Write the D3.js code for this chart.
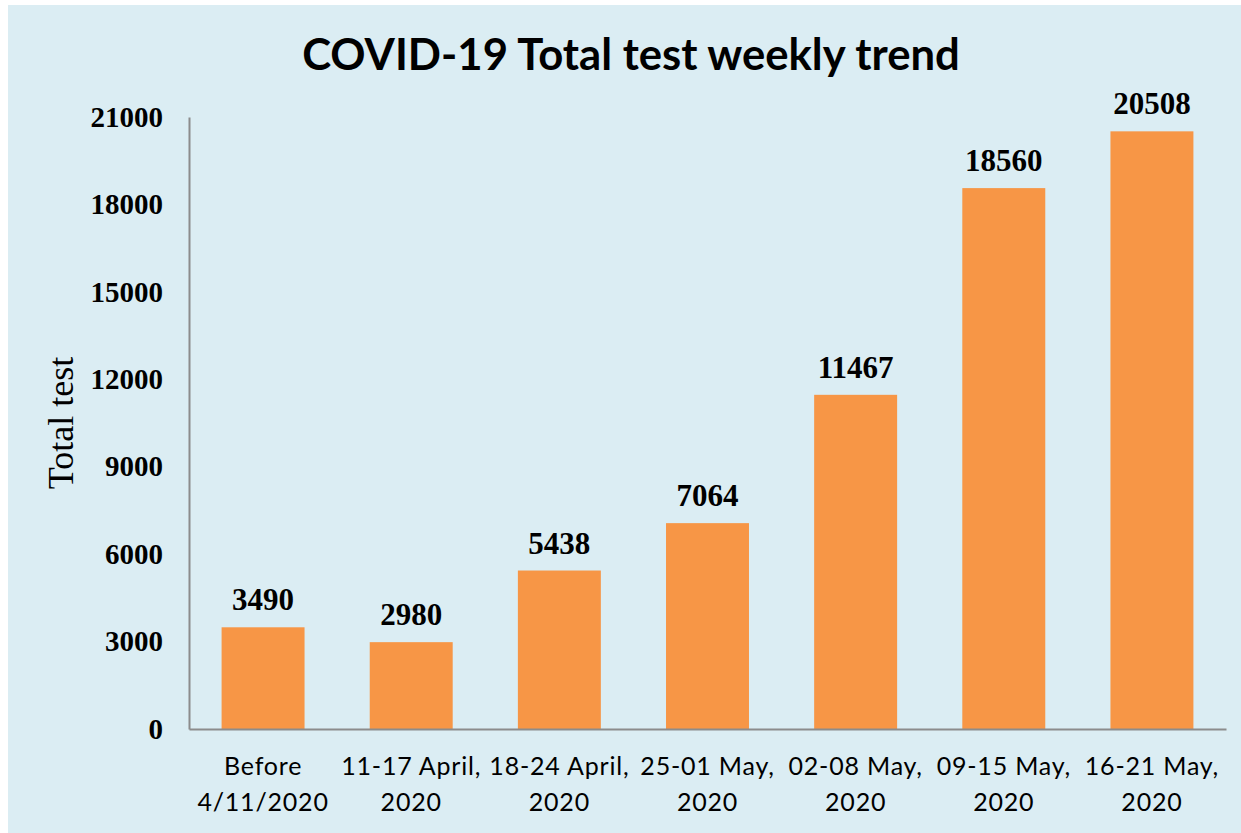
<!DOCTYPE html>
<html>
<head>
<meta charset="utf-8">
<script src="https://cdn.jsdelivr.net/npm/d3@7"></script>
<style>
  html, body { margin: 0; padding: 0; background: #ffffff; }
  svg { display: block; }
</style>
</head>
<body>
<svg id="chart" width="1241" height="833"></svg>
<script>
(function () {
  // chart data
  const categories = [
    "Before\n4/11/2020",
    "11-17 April,\n2020",
    "18-24 April,\n2020",
    "25-01 May,\n2020",
    "02-08 May,\n2020",
    "09-15 May,\n2020",
    "16-21 May,\n2020"
  ];
  const totals = [3490, 2980, 5438, 7064, 11467, 18560, 20508];
  const yTicks = [0, 3000, 6000, 9000, 12000, 15000, 18000, 21000];

  const W = 1241, H = 833;
  const margin = { left: 189, right: 15, top: 117, bottom: 104 };
  const svg = d3.select("#chart");

  svg.append("rect")
    .attr("x", 8).attr("y", 5)
    .attr("width", W - 8).attr("height", H - 5)
    .attr("fill", "#dbedf3");

  const x = d3.scaleBand()
    .domain(categories)
    .range([margin.left, W - margin.right])
    .paddingInner(0.44)
    .paddingOuter(0.22);

  const y = d3.scaleLinear()
    .domain([0, 21000])
    .range([H - margin.bottom, margin.top]);

  // bars
  svg.append("g")
    .selectAll("rect")
    .data(totals)
    .join("rect")
    .attr("x", (d, i) => x(categories[i]))
    .attr("y", (d) => y(d))
    .attr("width", x.bandwidth())
    .attr("height", (d) => y(0) - y(d))
    .attr("fill", "#f79646");

  // value labels
  svg.append("g")
    .selectAll("text")
    .data(totals)
    .join("text")
    .attr("x", (d, i) => x(categories[i]) + x.bandwidth() / 2)
    .attr("y", (d) => y(d) - 17)
    .attr("text-anchor", "middle")
    .attr("font-family", "'Liberation Serif', 'Times New Roman', serif")
    .attr("font-weight", "bold")
    .attr("font-size", 31)
    .attr("fill", "#000")
    .text((d) => d);

  // y axis
  const yAxis = svg.append("g")
    .attr("transform", `translate(${margin.left},0)`)
    .call(d3.axisLeft(y).tickValues(yTicks).tickFormat(d3.format("d")).tickSize(0).tickPadding(26));
  yAxis.select(".domain").attr("stroke", "#8c8c8c").attr("stroke-width", 2);
  yAxis.selectAll("text")
    .attr("font-family", "'Liberation Serif', 'Times New Roman', serif")
    .attr("font-weight", "bold")
    .attr("font-size", 29)
    .attr("fill", "#000");

  // x axis
  const xAxis = svg.append("g")
    .attr("transform", `translate(0,${y(0)})`)
    .call(d3.axisBottom(x).tickSize(0).tickPadding(0));
  xAxis.select(".domain").attr("stroke", "#8c8c8c").attr("stroke-width", 2);
  xAxis.selectAll(".tick text").each(function (d) {
    const t = d3.select(this);
    t.text(null)
      .attr("y", 0)
      .attr("dy", null)
      .attr("font-family", "Lato, 'Open Sans', sans-serif")
      .attr("font-size", 25)
      .attr("letter-spacing", 0.8)
      .attr("fill", "#000");
    d.split("\n").forEach((line, i) => {
      t.append("tspan")
        .attr("x", 0)
        .attr("y", 46 + i * 36)
        .text(line);
    });
  });

  // y axis title
  svg.append("text")
    .attr("transform", "translate(73,423) rotate(-90)")
    .attr("text-anchor", "middle")
    .attr("font-family", "'Liberation Serif', 'Times New Roman', serif")
    .attr("font-size", 36)
    .attr("fill", "#000")
    .text("Total test");

  // title
  const title = svg.append("text")
    .attr("x", 631)
    .attr("y", 70)
    .attr("text-anchor", "middle")
    .attr("font-family", "Lato, 'Open Sans', sans-serif")
    .attr("font-weight", "bold")
    .attr("font-size", 44)
    .attr("fill", "#000")
    .text("COVID-19 Total test weekly trend");
  const tw = title.node().getComputedTextLength();
  title.attr("font-size", 44 * 658 / tw);
})();
</script>
</body>
</html>
